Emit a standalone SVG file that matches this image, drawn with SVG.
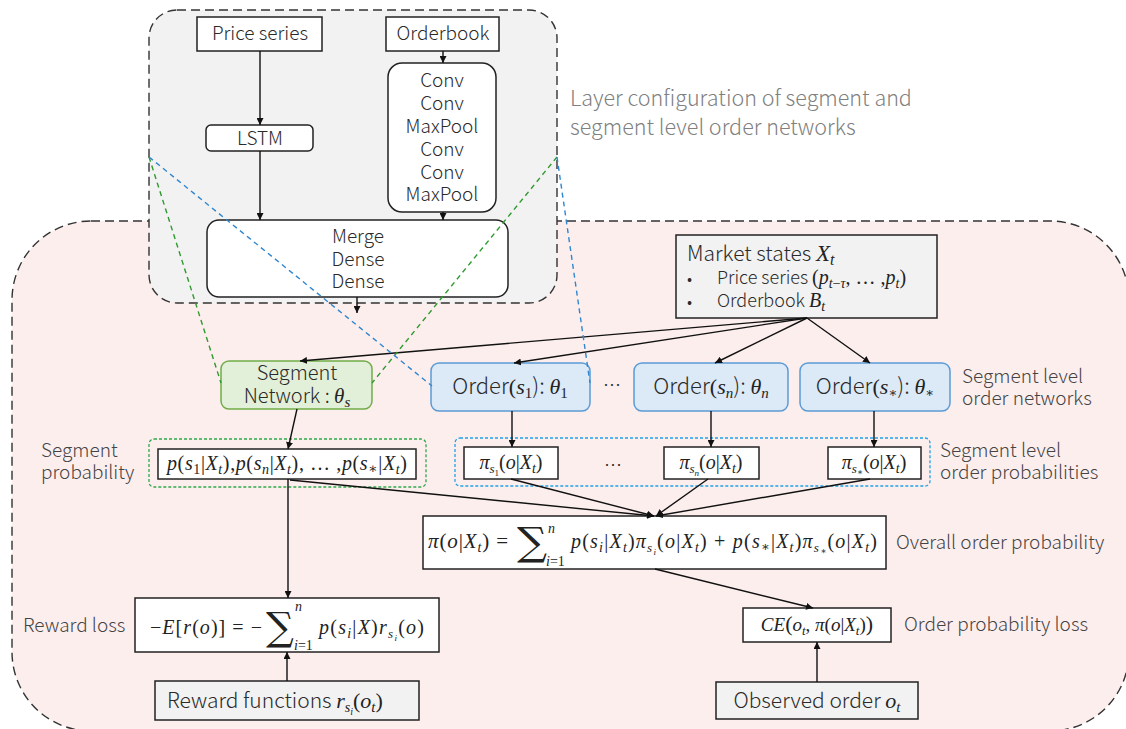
<svg xmlns="http://www.w3.org/2000/svg" width="1126" height="729" viewBox="0 0 1126 729">
<defs>
<marker id="ah" viewBox="0 0 10 10" refX="10" refY="5" markerWidth="7" markerHeight="7" orient="auto" markerUnits="userSpaceOnUse">
<path d="M0,0 L10,5 L0,10 z" fill="#111"/>
</marker>
<style>
.sans{font-family:"Noto Sans CJK JP","Noto Sans",sans-serif;font-weight:300;fill:#2a2a2a}
.lbl{font-family:"Noto Sans CJK JP","Noto Sans",sans-serif;font-weight:300;fill:#444;font-size:19px}
.m{font-family:"Liberation Serif","DejaVu Serif",serif;font-style:italic;font-weight:normal;fill:#222}
.r{font-style:normal}
.s{font-size:70%}
.box{fill:#fff;stroke:#222;stroke-width:1.5}
.gbox{fill:#f2f2f2;stroke:#222;stroke-width:1.5}
.con{stroke:#111;stroke-width:1.4;fill:none;marker-end:url(#ah)}
.sig{font-family:"DejaVu Serif",serif;fill:#222}
</style>
</defs>
<rect width="1126" height="729" fill="#fff"/>
<!-- pink region -->
<rect x="12" y="221" width="1117" height="510" rx="79" fill="#fdeeee" stroke="#333" stroke-width="1.4" stroke-dasharray="9,5"/>
<!-- gray region -->
<rect x="149" y="10" width="408" height="293" rx="28" fill="#f2f2f2" stroke="#333" stroke-width="1.4" stroke-dasharray="9,5"/>
<text class="lbl" x="570" y="106" style="fill:#808080;font-size:21.5px">Layer configuration of segment and</text>
<text class="lbl" x="570" y="135" style="fill:#808080;font-size:21.5px">segment level order networks</text>

<g id="price-series"><rect class="box" x="197" y="17" width="125" height="34"/><text class="sans" x="260" y="40" font-size="19" text-anchor="middle">Price series</text></g>
<g id="orderbook"><rect class="box" x="386" y="17" width="113" height="34"/><text class="sans" x="443" y="40" font-size="19" text-anchor="middle">Orderbook</text></g>
<g id="lstm"><rect class="box" x="206" y="125" width="107" height="26" rx="5"/><text class="sans" x="260" y="145" font-size="19" text-anchor="middle">LSTM</text></g>
<g id="conv"><rect class="box" x="388" y="63" width="108" height="149" rx="14"/>
<text class="sans" font-size="19" text-anchor="middle"><tspan x="442" y="87">Conv</tspan><tspan x="442" y="110">Conv</tspan><tspan x="442" y="133">MaxPool</tspan><tspan x="442" y="156">Conv</tspan><tspan x="442" y="179">Conv</tspan><tspan x="442" y="201">MaxPool</tspan></text></g>
<g id="merge"><rect class="box" x="207" y="220" width="301" height="77" rx="12"/>
<text class="sans" font-size="19" text-anchor="middle"><tspan x="358" y="243">Merge</tspan><tspan x="358" y="266">Dense</tspan><tspan x="358" y="288">Dense</tspan></text></g>

<g id="market-states"><rect class="gbox" x="676" y="235" width="261" height="83"/>
<text class="sans" x="687" y="261" font-size="21">Market states <tspan class="m" font-size="23">X</tspan><tspan class="m" font-size="16" dy="4">t</tspan></text>
<text class="sans" x="687" y="285" font-size="16">•</text>
<text class="sans" x="717" y="284" font-size="18">Price series <tspan class="m r" font-size="20">(</tspan><tspan class="m" font-size="20">p</tspan><tspan class="m" font-size="14" dy="4">t</tspan><tspan class="m r" font-size="14">−</tspan><tspan class="m" font-size="14">τ</tspan><tspan class="m r" font-size="20" dy="-4">, … ,</tspan><tspan class="m" font-size="20">p</tspan><tspan class="m" font-size="14" dy="4">t</tspan><tspan class="m r" font-size="20" dy="-4">)</tspan></text>
<text class="sans" x="687" y="308" font-size="16">•</text>
<text class="sans" x="717" y="307" font-size="18">Orderbook <tspan class="m" font-size="20">B</tspan><tspan class="m" font-size="14" dy="4">t</tspan></text>
</g>

<g id="segment-network"><rect x="221" y="361" width="151" height="48" rx="8" fill="#e2efd9" stroke="#70ad47" stroke-width="1.5"/>
<text class="sans" x="297" y="380" font-size="20" text-anchor="middle">Segment</text>
<text class="sans" x="297" y="403" font-size="20" text-anchor="middle">Network : <tspan class="m" font-size="21">θ</tspan><tspan class="m" font-size="15" dy="4">s</tspan></text></g>

<g id="order-s1"><rect x="431" y="363" width="159" height="48" rx="8" fill="#dce9f7" stroke="#5b9bd5" stroke-width="1.5"/>
<text class="sans" x="510" y="394" font-size="22" text-anchor="middle">Order<tspan class="m r">(</tspan><tspan class="m">s</tspan><tspan class="m r" font-size="15" dy="4">1</tspan><tspan dy="-4">): </tspan><tspan class="m">θ</tspan><tspan class="m r" font-size="15" dy="4">1</tspan></text></g>
<text class="sans" x="612" y="392" font-size="18" text-anchor="middle">…</text>
<g id="order-sn"><rect x="634" y="363" width="154" height="48" rx="8" fill="#dce9f7" stroke="#5b9bd5" stroke-width="1.5"/>
<text class="sans" x="711" y="394" font-size="22" text-anchor="middle">Order<tspan class="m r">(</tspan><tspan class="m">s</tspan><tspan class="m" font-size="15" dy="4">n</tspan><tspan dy="-4">): </tspan><tspan class="m">θ</tspan><tspan class="m" font-size="15" dy="4">n</tspan></text></g>
<g id="order-sstar"><rect x="800" y="363" width="150" height="48" rx="8" fill="#dce9f7" stroke="#5b9bd5" stroke-width="1.5"/>
<text class="sans" x="875" y="394" font-size="22" text-anchor="middle">Order<tspan class="m r">(</tspan><tspan class="m">s</tspan><tspan class="m r" font-size="13" dy="3">∗</tspan><tspan dy="-3">): </tspan><tspan class="m">θ</tspan><tspan class="m r" font-size="13" dy="3">∗</tspan></text></g>
<text class="lbl" x="962" y="383">Segment level</text>
<text class="lbl" x="962" y="405">order networks</text>

<!-- segment probability -->
<rect x="149" y="439" width="277" height="48" rx="5" fill="none" stroke="#2ea84a" stroke-width="1.3" stroke-dasharray="3,2"/>
<text class="lbl" x="41" y="457">Segment</text>
<text class="lbl" x="41" y="479">probability</text>
<g id="seg-prob"><rect class="box" x="158" y="449" width="258" height="30"/>
<text class="m" x="287" y="470" font-size="20" text-anchor="middle" textLength="240">p<tspan class="r">(</tspan>s<tspan class="r s" dy="4">1</tspan><tspan class="r" dy="-4">|</tspan>X<tspan class="s" dy="4">t</tspan><tspan class="r" dy="-4">),</tspan>p<tspan class="r">(</tspan>s<tspan class="s" dy="4">n</tspan><tspan class="r" dy="-4">|</tspan>X<tspan class="s" dy="4">t</tspan><tspan class="r" dy="-4">), … ,</tspan>p<tspan class="r">(</tspan>s<tspan class="r s" dy="3">∗</tspan><tspan class="r" dy="-3">|</tspan>X<tspan class="s" dy="4">t</tspan><tspan class="r" dy="-4">)</tspan></text></g>

<!-- segment level order probabilities -->
<rect x="455" y="438" width="475" height="48" rx="5" fill="none" stroke="#1fa2e6" stroke-width="1.3" stroke-dasharray="3,2"/>
<g id="pi-s1"><rect class="box" x="464" y="447" width="94" height="32"/>
<text class="m" x="511" y="469" font-size="20" text-anchor="middle">π<tspan font-size="13" dy="4">s</tspan><tspan class="r" font-size="9" dy="3">1</tspan><tspan class="r" dy="-7">(</tspan>o<tspan class="r">|</tspan>X<tspan font-size="14" dy="4">t</tspan><tspan class="r" dy="-4">)</tspan></text></g>
<text class="sans" x="613" y="472" font-size="18" text-anchor="middle">…</text>
<g id="pi-sn"><rect class="box" x="664" y="447" width="95" height="32"/>
<text class="m" x="711" y="469" font-size="20" text-anchor="middle">π<tspan font-size="13" dy="4">s</tspan><tspan font-size="9" dy="3">n</tspan><tspan class="r" dy="-7">(</tspan>o<tspan class="r">|</tspan>X<tspan font-size="14" dy="4">t</tspan><tspan class="r" dy="-4">)</tspan></text></g>
<g id="pi-sstar"><rect class="box" x="828" y="447" width="93" height="32"/>
<text class="m" x="874" y="469" font-size="20" text-anchor="middle">π<tspan font-size="13" dy="4">s</tspan><tspan class="r" font-size="9" dy="2">∗</tspan><tspan class="r" dy="-6">(</tspan>o<tspan class="r">|</tspan>X<tspan font-size="14" dy="4">t</tspan><tspan class="r" dy="-4">)</tspan></text></g>
<text class="lbl" x="940" y="457">Segment level</text>
<text class="lbl" x="940" y="479">order probabilities</text>

<!-- overall -->
<g id="overall"><rect class="box" x="423" y="516" width="463" height="53"/>
<text class="m" x="428" y="548" font-size="21" textLength="80">π<tspan class="r">(</tspan>o<tspan class="r">|</tspan>X<tspan font-size="14" dy="4">t</tspan><tspan class="r" dy="-4">) =</tspan></text>
<text class="sig" transform="translate(517,555) scale(1.08,1)" font-size="39">∑</text>
<text class="m" x="548" y="533" font-size="14">n</text>
<text class="m" x="546" y="566" font-size="14">i<tspan class="r">=1</tspan></text>
<text class="m" x="571" y="548" font-size="20" textLength="306">p<tspan class="r">(</tspan>s<tspan font-size="14" dy="4">i</tspan><tspan class="r" dy="-4">|</tspan>X<tspan font-size="14" dy="4">t</tspan><tspan class="r" dy="-4">)</tspan>π<tspan font-size="13" dy="4">s</tspan><tspan font-size="9" dy="3">i</tspan><tspan class="r" dy="-7">(</tspan>o<tspan class="r">|</tspan>X<tspan font-size="14" dy="4">t</tspan><tspan class="r" dy="-4">) + </tspan>p<tspan class="r">(</tspan>s<tspan class="r" font-size="13" dy="3">∗</tspan><tspan class="r" dy="-3">|</tspan>X<tspan font-size="14" dy="4">t</tspan><tspan class="r" dy="-4">)</tspan>π<tspan font-size="13" dy="4">s</tspan><tspan class="r" font-size="9" dy="2">∗</tspan><tspan class="r" dy="-6">(</tspan>o<tspan class="r">|</tspan>X<tspan font-size="14" dy="4">t</tspan><tspan class="r" dy="-4">)</tspan></text></g>
<text class="lbl" x="896" y="549">Overall order probability</text>

<!-- reward loss -->
<text class="lbl" x="23" y="632">Reward loss</text>
<g id="reward-loss"><rect class="box" x="135" y="598" width="304" height="54"/>
<text class="m" x="150" y="634" font-size="20" textLength="112"><tspan class="r">−</tspan>E<tspan class="r">[</tspan>r<tspan class="r">(</tspan>o<tspan class="r">)] = −</tspan></text>
<text class="sig" transform="translate(266,640)" font-size="39">∑</text>
<text class="m" x="295" y="611" font-size="14">n</text>
<text class="m" x="294" y="650" font-size="14">i<tspan class="r">=1</tspan></text>
<text class="m" x="319" y="634" font-size="20" textLength="105">p<tspan class="r">(</tspan>s<tspan font-size="14" dy="4">i</tspan><tspan class="r" dy="-4">|</tspan>X<tspan class="r">)</tspan>r<tspan font-size="13" dy="4">s</tspan><tspan font-size="9" dy="3">i</tspan><tspan class="r" dy="-7">(</tspan>o<tspan class="r">)</tspan></text></g>

<g id="reward-functions"><rect class="gbox" x="155" y="681" width="264" height="39"/>
<text class="sans" x="167" y="708" font-size="21">Reward functions <tspan class="m" font-size="22">r</tspan><tspan class="m" font-size="14" dy="4">s</tspan><tspan class="m" font-size="10" dy="3">i</tspan><tspan class="m r" font-size="22" dy="-7">(</tspan><tspan class="m" font-size="22">o</tspan><tspan class="m" font-size="15" dy="4">t</tspan><tspan class="m r" font-size="22" dy="-4">)</tspan></text></g>

<g id="ce"><rect class="box" x="743" y="608" width="148" height="34"/>
<text class="m" x="817" y="631" font-size="19" text-anchor="middle">CE<tspan class="r" font-size="22">(</tspan>o<tspan font-size="13" dy="4">t</tspan><tspan class="r" dy="-4">, </tspan>π<tspan class="r">(</tspan>o<tspan class="r">|</tspan>X<tspan font-size="13" dy="4">t</tspan><tspan class="r" dy="-4">)</tspan><tspan class="r" font-size="22">)</tspan></text></g>
<text class="lbl" x="904" y="631">Order probability loss</text>

<g id="observed-order"><rect class="gbox" x="716" y="682" width="202" height="37"/>
<text class="sans" x="817" y="708" font-size="21" text-anchor="middle">Observed order <tspan class="m" font-size="22">o</tspan><tspan class="m" font-size="15" dy="4">t</tspan></text></g>

<g id="connectors">
<line class="con" x1="260" y1="51" x2="260" y2="125"/>
<line class="con" x1="260" y1="151" x2="260" y2="220"/>
<line class="con" x1="443" y1="51" x2="443" y2="63"/>
<line class="con" x1="443" y1="212" x2="443" y2="220"/>
<line class="con" x1="357" y1="297" x2="357" y2="313"/>
<line class="con" x1="807" y1="318" x2="300" y2="361"/>
<line class="con" x1="807" y1="318" x2="514" y2="363"/>
<line class="con" x1="807" y1="318" x2="715" y2="363"/>
<line class="con" x1="807" y1="318" x2="870" y2="363"/>
<line class="con" x1="297" y1="409" x2="288" y2="449"/>
<line class="con" x1="512" y1="411" x2="512" y2="447"/>
<line class="con" x1="711" y1="411" x2="711" y2="447"/>
<line class="con" x1="874" y1="411" x2="874" y2="447"/>
<line class="con" x1="288" y1="479" x2="288" y2="598"/>
<line class="con" x1="290" y1="480" x2="654" y2="516"/>
<line class="con" x1="511" y1="479" x2="654" y2="516"/>
<line class="con" x1="708" y1="479" x2="656" y2="516"/>
<line class="con" x1="870" y1="479" x2="656" y2="516"/>
<line class="con" x1="655" y1="569" x2="813" y2="608"/>
<line class="con" x1="287" y1="681" x2="287" y2="652"/>
<line class="con" x1="817" y1="682" x2="817" y2="642"/>
<g fill="none" stroke-width="1.4" stroke-dasharray="5,4">
<line x1="149" y1="157" x2="221" y2="383" stroke="#2e9a2e"/>
<line x1="557" y1="157" x2="372" y2="383" stroke="#2e9a2e"/>
<line x1="149" y1="157" x2="432" y2="386" stroke="#2f86d0"/>
<line x1="557" y1="157" x2="590" y2="383" stroke="#2f86d0"/>
</g>
</g>
</svg>
